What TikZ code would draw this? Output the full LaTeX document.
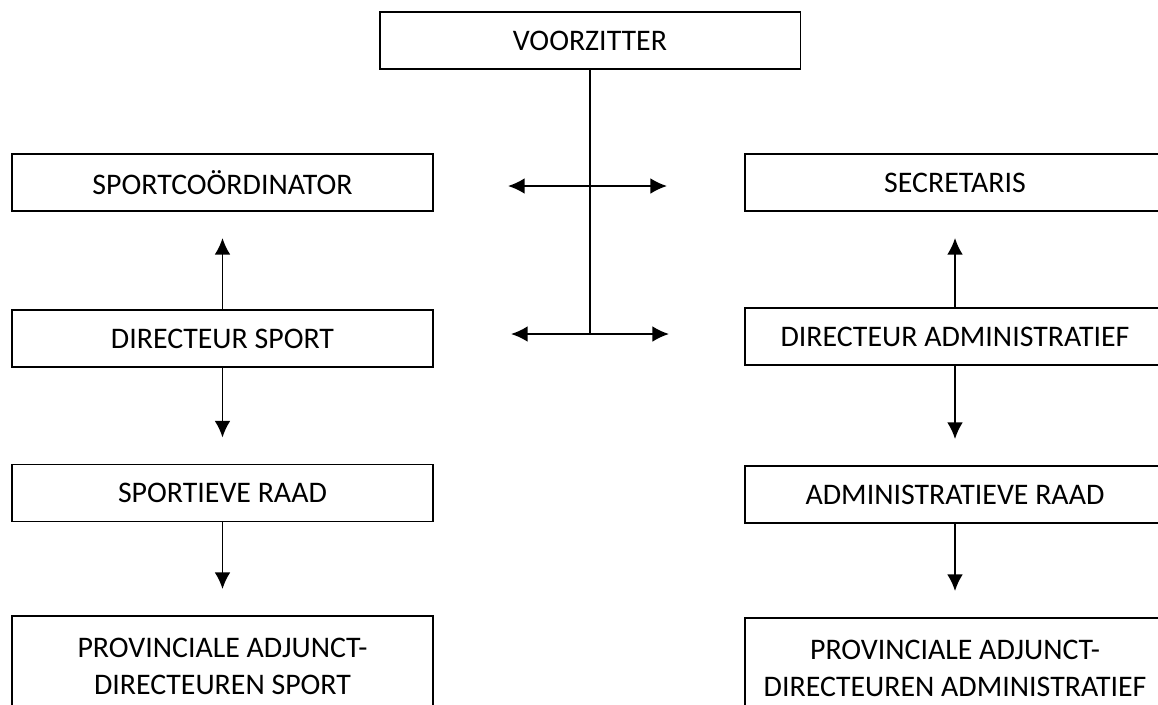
\documentclass[tikz,border=0pt]{standalone}
\usepackage{fontspec}
\setmainfont{Carlito}
\usetikzlibrary{arrows.meta}

\begin{document}
\begin{tikzpicture}[x=0.02cm, y=-0.02cm, line width=1.1pt]
\useasboundingbox (0,0) rectangle (1158,704);
\clip (0,0) rectangle (1158,704);
\tikzset{every node/.style={draw, rectangle, inner sep=0pt, minimum width=8.42cm, minimum height=1.14cm, align=center, font=\fontsize{17}{21.5}\selectfont}}
\node (voorz) at (590, 40.5) {VOORZITTER};
\node (spco) at (222.5, 182.5) {SPORTCOÖRDINATOR};
\node (secr) at (955, 182.5) {SECRETARIS};
\node (dirsp) at (222.5, 338.5) {DIRECTEUR SPORT};
\node (dirad) at (955, 336.5) {DIRECTEUR ADMINISTRATIEF};
\node (sprd) at (222.5, 493) {SPORTIEVE RAAD};
\node (adrd) at (955, 494.5) {ADMINISTRATIEVE RAAD};
\node[minimum height=2.02cm] (provsp) at (222.5, 666.5) {PROVINCIALE ADJUNCT-\\DIRECTEUREN SPORT};
\node[minimum height=2.02cm] (provad) at (955, 668.5) {PROVINCIALE ADJUNCT-\\DIRECTEUREN ADMINISTRATIEF};

\tikzset{every node/.style={}};
\coordinate (kruis) at (590, 334);
\coordinate (l1) at (508, 186);
\coordinate (r1) at (667, 186);
\coordinate (l2) at (511, 334);
\coordinate (r2) at (669, 334);

\tikzset{pijl/.style={-{Latex[length=9.5pt,width=9pt]}, shorten >=0.52cm}};
\path (dirsp) edge [pijl] (spco);
\path (dirsp) edge [pijl] (sprd);
\path (sprd) edge [pijl] (provsp);
\path (dirad) edge [pijl] (secr);
\path (dirad) edge [pijl] (adrd);
\path (adrd) edge [pijl] (provad);

\draw (voorz) -- (kruis);
\tikzset{pijl/.style={{Latex[length=9.5pt,width=9pt]}-{Latex[length=9.5pt,width=9pt]}}};
\path (l1) edge [pijl] (r1);
\path (l2) edge [pijl] (r2);
\end{tikzpicture}
\end{document}
